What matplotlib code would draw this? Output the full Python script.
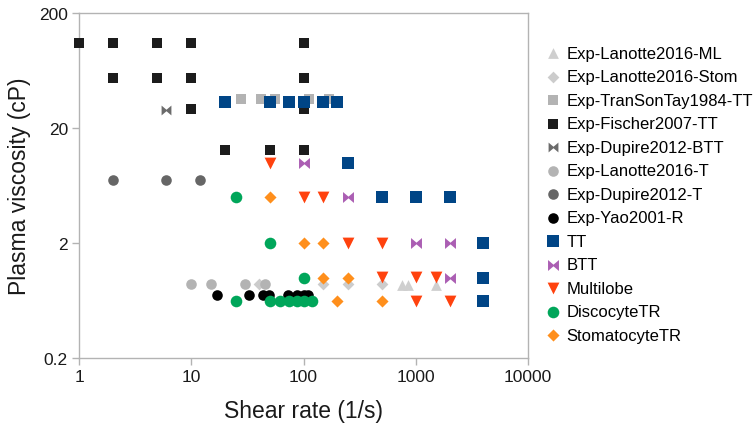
import matplotlib
matplotlib.use("Agg")
import matplotlib.pyplot as plt
from matplotlib.path import Path
from matplotlib.ticker import FixedLocator, NullLocator

plt.rcParams['font.family'] = ['Liberation Sans', 'DejaVu Sans']

# Experimental data
lanotte_ml_x = [750, 850, 1500]
lanotte_ml_y = [0.86, 0.86, 0.86]

lanotte_stom_x = [40, 150, 250, 500]
lanotte_stom_y = [0.88, 0.88, 0.88, 0.88]

transontay_x = [28, 42, 56, 113, 170]
transontay_y = [36, 36, 36, 36, 36]

fischer_x = [1, 2, 2, 5, 5, 10, 10, 10, 20, 50, 100, 100, 100, 100]
fischer_y = [110, 110, 54.5, 110, 54.5, 110, 54.5, 29, 13, 13, 110, 54.5, 29, 13]

dupire_btt_x = [6]
dupire_btt_y = [28.5]

lanotte_t_x = [10, 15, 30, 45]
lanotte_t_y = [0.88, 0.88, 0.88, 0.88]

dupire_t_x = [2, 6, 12]
dupire_t_y = [7.1, 7.1, 7.1]

yao_x = [17, 33, 44, 49, 73, 87, 100, 110]
yao_y = [0.70, 0.70, 0.70, 0.70, 0.70, 0.70, 0.70, 0.70]

# Simulation data
tt_x = [20, 50, 75, 100, 150, 200, 250, 500, 1000, 2000, 4000, 4000, 4000]
tt_y = [34, 34, 34, 34, 34, 34, 10, 5, 5, 5, 2, 1.0, 0.63]

btt_x = [100, 250, 1000, 2000, 2000]
btt_y = [10, 5, 2, 2, 1.0]

multilobe_x = [50, 100, 150, 250, 500, 500, 1000, 1500, 1000, 2000]
multilobe_y = [10, 5, 5, 2, 2, 1.02, 1.02, 1.02, 0.63, 0.63]

discocyte_x = [25, 50, 100, 25, 50, 62, 75, 87, 100, 120]
discocyte_y = [5, 2, 1.0, 0.63, 0.63, 0.63, 0.63, 0.63, 0.63, 0.63]

stomatocyte_x = [50, 100, 150, 150, 250, 200, 500]
stomatocyte_y = [5, 2, 2, 1.0, 1.0, 0.63, 0.63]

# horizontal bow-tie marker
bowtie = Path([(-1, 1), (0, 0.15), (1, 1), (1, -1), (0, -0.15), (-1, -1), (-1, 1)],
              [Path.MOVETO] + [Path.LINETO] * 5 + [Path.CLOSEPOLY])

series = [
    ("Exp-Lanotte2016-ML", lanotte_ml_x, lanotte_ml_y, '^', '#cfcfcf', 60),
    ("Exp-Lanotte2016-Stom", lanotte_stom_x, lanotte_stom_y, 'D', '#cccccc', 36),
    ("Exp-TranSonTay1984-TT", transontay_x, transontay_y, 's', '#b3b3b3', 55),
    ("Exp-Fischer2007-TT", fischer_x, fischer_y, 's', '#1c1c1c', 55),
    ("Exp-Dupire2012-BTT", dupire_btt_x, dupire_btt_y, bowtie, '#6b6b6b', 50),
    ("Exp-Lanotte2016-T", lanotte_t_x, lanotte_t_y, 'o', '#b3b3b3', 58),
    ("Exp-Dupire2012-T", dupire_t_x, dupire_t_y, 'o', '#666666', 58),
    ("Exp-Yao2001-R", yao_x, yao_y, 'o', '#000000', 58),
    ("TT", tt_x, tt_y, 's', '#004586', 68),
    ("BTT", btt_x, btt_y, bowtie, '#ab5eb3', 62),
    ("Multilobe", multilobe_x, multilobe_y, 'v', '#ff420e', 72),
    ("DiscocyteTR", discocyte_x, discocyte_y, 'o', '#00a65a', 70),
    ("StomatocyteTR", stomatocyte_x, stomatocyte_y, 'D', '#ff8f1c', 38),
]

fig = plt.figure(figsize=(7.54, 4.31), dpi=100)
ax = fig.add_axes([0.1048, 0.167, 0.5955, 0.8005])

for label, xs, ys, marker, color, size in series:
    ax.scatter(xs, ys, marker=marker, s=size, color=color, linewidths=0,
               label=label, zorder=3, clip_on=False)

ax.set_xscale('log')
ax.set_yscale('log')
ax.set_xlim(1, 10000)
ax.set_ylim(0.2, 200)

ax.xaxis.set_major_locator(FixedLocator([1, 10, 100, 1000, 10000]))
ax.yaxis.set_major_locator(FixedLocator([0.2, 2, 20, 200]))
ax.xaxis.set_minor_locator(NullLocator())
ax.yaxis.set_minor_locator(NullLocator())
ax.set_xticklabels(['1', '10', '100', '1000', '10000'])
ax.set_yticklabels(['0.2', '2', '20', '200'])

for spine in ax.spines.values():
    spine.set_color('#b3b3b3')
    spine.set_linewidth(1)
ax.tick_params(axis='both', which='major', color='#b3b3b3', length=5,
               width=1, labelsize=12.5, labelcolor='#1a1a1a', pad=3)

ax.set_xlabel('Shear rate (1/s)', fontsize=16.5, color='#1a1a1a', labelpad=11)
ax.set_ylabel('Plasma viscosity (cP)', fontsize=16.5, color='#1a1a1a', labelpad=6)

ax.legend(loc='upper left', bbox_to_anchor=(1.022, 0.925), frameon=False,
          fontsize=12, handletextpad=0.33, handlelength=1.0,
          labelspacing=0.51, borderaxespad=0, scatterpoints=1)

fig.savefig('out.png', dpi=100, facecolor='white')
